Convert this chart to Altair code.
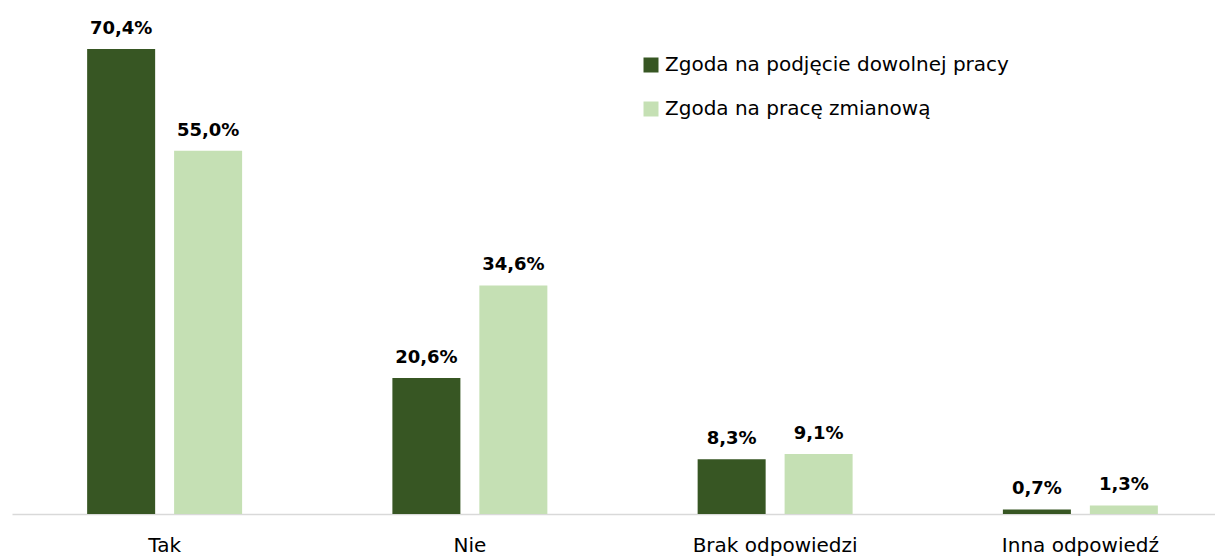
import altair as alt
import pandas as pd

categories = ["Tak", "Nie", "Brak odpowiedzi", "Inna odpowiedź"]
series = ["Zgoda na podjęcie dowolnej pracy", "Zgoda na pracę zmianową"]
values_any = [70.4, 20.6, 8.3, 0.7]
values_shift = [55.0, 34.6, 9.1, 1.3]
colors = ["#375623", "#C5E0B4"]

rows = []
for c, a, b in zip(categories, values_any, values_shift):
    for s, v in zip(series, [a, b]):
        rows.append({"cat": c, "series": s, "value": v,
                     "label": f"{v:.1f}".replace(".", ",") + "%"})
df = pd.DataFrame(rows)

FONT = "DejaVu Sans"

x = alt.X("cat:N", sort=categories, title=None,
          scale=alt.Scale(range=[0, 1221], paddingInner=0, paddingOuter=0),
          axis=alt.Axis(labelAngle=0, ticks=False, domainColor="#D9D9D9",
                        domainWidth=1.5, labelFontSize=20, labelFont=FONT,
                        labelColor="#000000", labelPadding=21, grid=False))
xo = alt.XOffset("series:N", sort=series,
                 scale=alt.Scale(paddingInner=0.218, paddingOuter=0.864))
y = alt.Y("value:Q", axis=None, scale=alt.Scale(domain=[0, 76.6], nice=False, zero=True))

bars = alt.Chart(df).mark_bar().encode(
    x=x, xOffset=xo, y=y,
    color=alt.Color("series:N", sort=series,
                    scale=alt.Scale(domain=series, range=colors),
                    legend=alt.Legend(title=None, orient="none", legendX=629, legendY=47,
                                      symbolType="square", symbolSize=225,
                                      symbolStrokeWidth=0, labelFontSize=20,
                                      labelFont=FONT, labelColor="#000000",
                                      rowPadding=24, labelOffset=4, labelLimit=500)),
)

text = alt.Chart(df).mark_text(baseline="alphabetic", dy=-15, fontSize=18,
                               fontWeight="bold", font=FONT, color="#000000").encode(
    x=x, xOffset=xo, y=y, text="label:N"
)

chart = (bars + text).properties(
    width=1203, height=506,
    padding={"left": 4, "right": 0, "top": 0, "bottom": 50},
    autosize=alt.AutoSizeParams(type="none"),
).configure_view(stroke=None)

chart.save("out.html", embed_options={"renderer": "svg", "actions": False})
